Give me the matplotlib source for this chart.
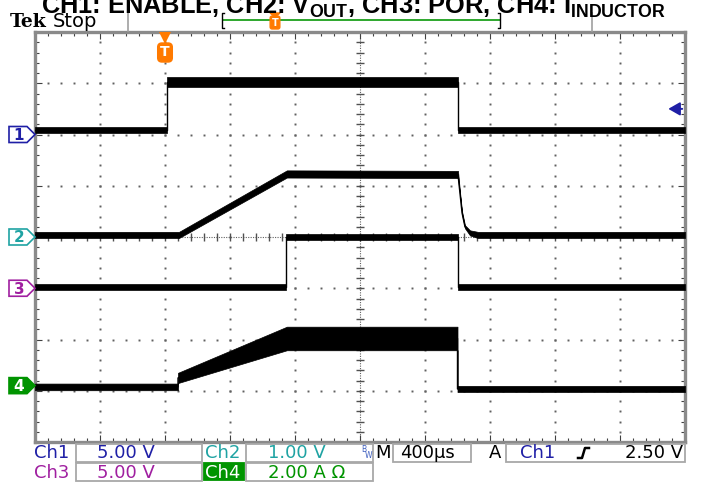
import numpy as np
import matplotlib
matplotlib.use("Agg")
from matplotlib import pyplot as plt
from matplotlib.patches import Polygon, Rectangle
from matplotlib.lines import Line2D

W, H = 701, 487

# horizontal: 400 us/div, 10 div, trigger 2 div from left (time in ms)
t_left, t_right = -0.8, 3.2
# vertical: 8 div
n_ydiv = 4

# channel settings (offset in div, units per div)
ch1_offset, ch1_scale = 2.0, 5.0
ch2_offset, ch2_scale = 0.0, 1.0
ch3_offset, ch3_scale = -1.0, 5.0
ch4_offset, ch4_scale = -2.9, 2.0
trig_level = 2.5

# Ch1 ENABLE (V)
ch1_t = [-0.8, 0.01, 0.01, 1.80, 1.80, 3.2]
ch1_v = [0.44, 0.44, 5.12, 5.12, 0.44, 0.44]
ch1_hw = [0.30, 0.30, 0.48, 0.48, 0.30, 0.30]

# Ch2 VOUT (V)
ch2_t = [-0.8, 0.086, 0.75, 1.803, 1.815, 1.828, 1.846, 1.877, 1.926, 3.2]
ch2_v = [0.04, 0.04, 1.23, 1.22, 0.86, 0.47, 0.20, 0.08, 0.04, 0.04]
ch2_hw = [0.06, 0.06, 0.07, 0.07, 0.03, 0.03, 0.03, 0.05, 0.06, 0.06]

# Ch3 POR (V)
ch3_t = [-0.8, 0.745, 0.745, 1.80, 1.80, 3.2]
ch3_v = [0.12, 0.12, 5.0, 5.0, 0.12, 0.12]
ch3_hw = [0.32, 0.32, 0.30, 0.30, 0.30, 0.30]

# Ch4 I_INDUCTOR (A), ripple band
ch4_t = [-0.8, 0.08, 0.08, 0.75, 1.80, 1.80, 3.2]
ch4_v = [-0.05, -0.05, 0.30, 1.84, 1.84, -0.13, -0.13]
ch4_hw = [0.13, 0.13, 0.20, 0.46, 0.46, 0.12, 0.12]

c_ch1 = "#1f1fa6"
c_ch2 = "#1fa3a3"
c_ch3 = "#a01fa0"
c_ch4 = "#009400"
c_orange = "#ff7a00"
c_grid = "#606060"

plt.rcParams["mathtext.fontset"] = "custom"
plt.rcParams["mathtext.bf"] = "Liberation Sans:bold"
plt.rcParams["mathtext.rm"] = "Liberation Sans:bold"


def fx(x):
    return x / W


def fy(y):
    return 1 - y / H


fig = plt.figure(figsize=(W / 100, H / 100), dpi=100)
ax = fig.add_axes([fx(35), fy(442), 650 / W, 410 / H])
ax.set_xlim(t_left, t_right)
ax.set_ylim(-n_ydiv, n_ydiv)

# graticule
tdiv = (t_right - t_left) / 10
major_x = t_left + tdiv * np.arange(11)
minor_x = t_left + tdiv / 5 * np.arange(51)
major_y = np.arange(-4, 5)
minor_y = np.arange(-20, 21) / 5
for xg in major_x[1:-1]:
    if abs(xg - 1.2) > 1e-6:
        ax.plot(np.full(len(minor_y), xg), minor_y, ls="none", marker="s",
                ms=1.4, mew=0, color=c_grid, zorder=1)
for yg in major_y[1:-1]:
    if yg != 0:
        ax.plot(minor_x, np.full(len(minor_x), yg), ls="none", marker="s",
                ms=1.4, mew=0, color=c_grid, zorder=1)
ax.axvline(1.2, color=c_grid, lw=0.8, ls=(0, (1, 1.2)), zorder=1)
ax.axhline(0, color=c_grid, lw=0.8, ls=(0, (1, 1.2)), zorder=1)
ax.plot(np.full(len(minor_y), 1.2), minor_y, ls="none", marker="_", ms=6,
        mew=1, color="#505050", zorder=1)
ax.plot(minor_x, np.zeros(len(minor_x)), ls="none", marker="|", ms=6,
        mew=1, color="#505050", zorder=1)

ax.set_xticks(major_x)
ax.set_xticks(minor_x, minor=True)
ax.set_yticks(major_y)
ax.set_yticks(minor_y, minor=True)
ax.tick_params(which="both", direction="in", top=True, right=True,
               labelbottom=False, labelleft=False, color="#404040", width=0.8)
ax.tick_params(which="major", length=5)
ax.tick_params(which="minor", length=3)
for s in ax.spines.values():
    s.set_color("#8a8a8a")
    s.set_linewidth(2.4)


# traces
def draw_trace(t, v, hw, off, scale):
    t = np.array(t)
    v = np.array(v)
    hw = np.array(hw)
    y = off + v / scale
    d = hw / scale
    ax.fill_between(t, y - d, y + d, color="black", lw=0.5, ec="black", zorder=3)
    ax.plot(t, y, color="black", lw=1.0, zorder=3)


draw_trace(ch1_t, ch1_v, ch1_hw, ch1_offset, ch1_scale)
draw_trace(ch2_t, ch2_v, ch2_hw, ch2_offset, ch2_scale)
draw_trace(ch3_t, ch3_v, ch3_hw, ch3_offset, ch3_scale)
draw_trace(ch4_t, ch4_v, ch4_hw, ch4_offset, ch4_scale)

# trigger level arrow (right side)
ty = ch1_offset + trig_level / ch1_scale
ax.annotate("", xy=(0.97, ty), xytext=(1.0, ty),
            xycoords=ax.get_yaxis_transform(), textcoords=ax.get_yaxis_transform(),
            arrowprops=dict(arrowstyle="-|>,head_length=0.7,head_width=0.4",
                            color=c_ch1, lw=1.4), zorder=5)

# trigger position marker under the top border
ax.plot([0.0], [0.985], transform=ax.get_xaxis_transform(), marker="v", ms=9,
        color=c_orange, mew=0, clip_on=False, zorder=6)
ax.text(0.0, 0.95, "T", transform=ax.get_xaxis_transform(), ha="center",
        va="center", color="white", fontsize=10, fontweight="bold",
        bbox=dict(boxstyle="round,pad=0.18,rounding_size=0.3", fc=c_orange,
                  ec=c_orange), zorder=6)

# channel ground markers on the left
fig.canvas.draw()
markers = [("1", ch1_offset, c_ch1, False),
           ("2", ch2_offset, c_ch2, False),
           ("3", ch3_offset, c_ch3, False),
           ("4", ch4_offset, c_ch4, True)]
for lab, off, col, filled in markers:
    ypix = H - ax.transData.transform((0, off))[1]
    pts = [(9, ypix - 8), (27, ypix - 8), (35, ypix), (27, ypix + 8), (9, ypix + 8)]
    poly = Polygon([(fx(a), fy(b)) for a, b in pts], closed=True,
                   transform=fig.transFigure, fc=col if filled else "white",
                   ec=col, lw=1.2, clip_on=False)
    fig.add_artist(poly)
    fig.text(fx(19), fy(ypix + 1), lab, ha="center", va="center", fontsize=11,
             fontweight="bold", color="white" if filled else col)

# title
fig.text(fx(353), fy(14),
         r"CH1: ENABLE, CH2: $\mathbf{V_{OUT}}$, CH3: POR, CH4: $\mathbf{I_{INDUCTOR}}$",
         ha="center", va="baseline", fontsize=18.3, fontweight="bold",
         family="Liberation Sans")

# Tek Stop
fig.text(fx(10), fy(27), "Tek", fontsize=13.5, fontweight="bold", family="DejaVu Serif",
         va="baseline")
fig.text(fx(53), fy(27), "Stop", fontsize=14, va="baseline", family="DejaVu Sans")

# record bar
fig.add_artist(Line2D([fx(128), fx(128)], [fy(13), fy(31)], color="#a0a0a0", lw=1.2))
fig.add_artist(Line2D([fx(592), fx(592)], [fy(13), fy(31)], color="#a0a0a0", lw=1.2))
fig.add_artist(Line2D([fx(223), fx(500)], [fy(20), fy(20)], color="#1ca01c", lw=1.3))
fig.add_artist(Line2D([fx(224), fx(222), fx(222), fx(224)],
                      [fy(13), fy(13), fy(28), fy(28)], color="black", lw=1))
fig.add_artist(Line2D([fx(498), fx(500), fx(500), fx(498)],
                      [fy(13), fy(13), fy(28), fy(28)], color="black", lw=1))
fig.add_artist(Polygon([(fx(270), fy(13)), (fx(280), fy(13)), (fx(275), fy(17))],
                       closed=True, transform=fig.transFigure, fc=c_orange, ec=c_orange))
fig.text(fx(275), fy(22.5), "T", ha="center", va="center", fontsize=7,
         fontweight="bold", color="white",
         bbox=dict(boxstyle="round,pad=0.15,rounding_size=0.2", fc=c_orange, ec=c_orange))

# status bar
box_ec = "#a8a8a8"


def sbox(x0, y0, x1, y1, fc="white", ec=box_ec):
    fig.add_artist(Rectangle((fx(x0), fy(y1)), (x1 - x0) / W, (y1 - y0) / H,
                             transform=fig.transFigure, fc=fc, ec=ec, lw=1.3))


sbox(76, 444, 202, 462)
sbox(246, 444, 373, 462)
sbox(393, 444, 471, 462)
sbox(506, 444, 685, 462)
sbox(76, 463, 202, 481)
sbox(204, 463, 244, 480, fc=c_ch4, ec=c_ch4)
sbox(246, 463, 373, 481)

fs = 13
r1, r2 = 453.5, 472.5
fig.text(fx(34), fy(r1), "Ch1", color=c_ch1, fontsize=fs, va="center")
fig.text(fx(97), fy(r1), "5.00 V", color=c_ch1, fontsize=fs, va="center")
fig.text(fx(205), fy(r1), "Ch2", color=c_ch2, fontsize=fs, va="center")
fig.text(fx(268), fy(r1), "1.00 V", color=c_ch2, fontsize=fs, va="center")
fig.text(fx(361), fy(449), "B", color="#4060c0", fontsize=5.5, va="center")
fig.text(fx(365), fy(455), "W", color="#4060c0", fontsize=5.5, va="center")
fig.text(fx(375), fy(r1), "M", color="black", fontsize=fs, va="center")
fig.text(fx(400), fy(r1), "400\u00b5s", color="black", fontsize=fs, va="center")
fig.text(fx(489), fy(r1), "A", color="black", fontsize=fs, va="center")
fig.text(fx(520), fy(r1), "Ch1", color=c_ch1, fontsize=fs, va="center")
fig.add_artist(Line2D([fx(578), fx(582), fx(585), fx(589)],
                      [fy(458), fy(458), fy(448), fy(448)], color="black", lw=1.8))
fig.text(fx(683), fy(r1), "2.50 V", color="black", fontsize=fs, va="center", ha="right")
fig.text(fx(34), fy(r2), "Ch3", color=c_ch3, fontsize=fs, va="center")
fig.text(fx(97), fy(r2), "5.00 V", color=c_ch3, fontsize=fs, va="center")
fig.text(fx(205), fy(r2), "Ch4", color="white", fontsize=fs, va="center")
fig.text(fx(268), fy(r2), "2.00 A \u03a9", color=c_ch4, fontsize=fs, va="center")

fig.savefig("out.png", dpi=100)
